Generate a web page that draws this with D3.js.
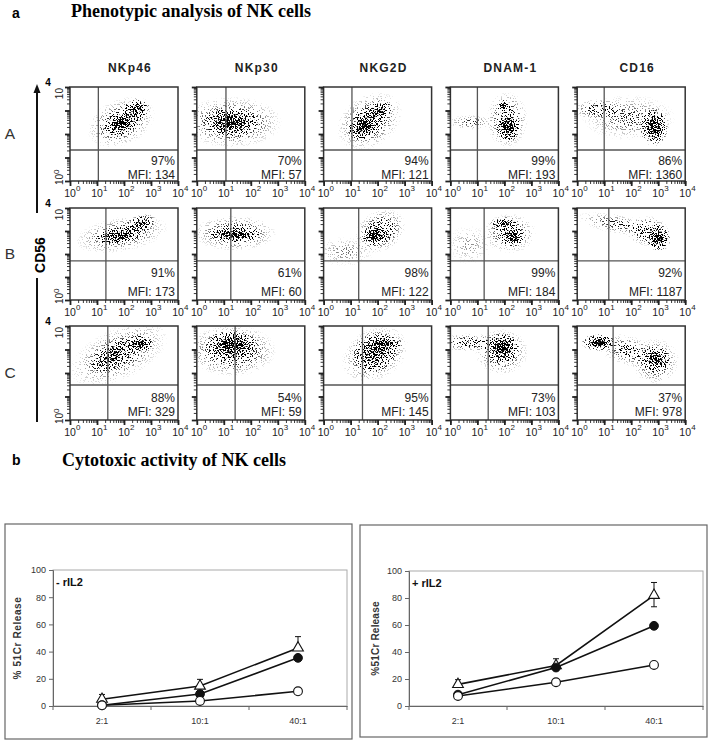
<!DOCTYPE html>
<html>
<head>
<meta charset="utf-8">
<script src="https://cdn.jsdelivr.net/npm/d3@7"></script>
<style>
  body { margin: 0; background: #fff; }
  svg { display: block; font-family: "Liberation Sans", Arial, sans-serif; }
</style>
</head>
<body>
<div id="fig"></div>
<script>
// ---- panel a: phenotype ----
const markers = ["NKp46", "NKp30", "NKG2D", "DNAM-1", "CD16"];
const rows = ["A", "B", "C"];
const percents = [[97, 70, 94, 99, 86], [91, 61, 98, 99, 92], [88, 54, 95, 73, 37]];
const mfis = [[134, 57, 121, 193, 1360], [173, 60, 122, 184, 1187], [329, 59, 145, 103, 978]];
// gate positions, in decades
const gateX = [[1.05, 1.08, 1.05, 1.0, 1.0], [1.33, 1.26, 1.3, 1.25, 1.17], [1.4, 1.42, 1.44, 1.4, 1.33]];
const gateY = [1.32, 1.7, 1.49];
const decades = [1, 10, 100, 1000, 10000];
const decadeExp = ["0", "1", "2", "3", "4"];
// event clouds per panel: [log x, log y, sd x, sd y, tilt deg, density]
const clouds = [
  [[1.95, 2.45, 0.32, 0.22, 30, 0.95], [2.45, 3.05, 0.25, 0.22, 20, 0.7], [1.9, 2.5, 0.6, 0.45, 25, 0.3]],
  [[1.25, 2.5, 0.45, 0.28, 0, 0.95], [1.3, 2.5, 0.85, 0.5, 0, 0.3]],
  [[1.5, 2.35, 0.3, 0.25, 35, 0.95], [2.05, 3.0, 0.25, 0.18, 20, 0.7], [1.7, 2.55, 0.6, 0.5, 35, 0.3]],
  [[2.15, 2.3, 0.2, 0.3, 0, 0.95], [1.95, 3.2, 0.12, 0.12, 0, 0.85], [2.1, 2.6, 0.35, 0.55, 0, 0.3], [0.75, 2.5, 0.4, 0.15, 0, 0.16]],
  [[2.85, 2.3, 0.25, 0.38, 0, 0.95], [0.8, 3.05, 0.45, 0.2, 0, 0.25], [1.9, 2.7, 0.8, 0.45, 0, 0.16]],
  [[1.8, 2.8, 0.4, 0.15, 8, 0.95], [2.6, 3.3, 0.28, 0.18, 20, 0.7], [1.9, 2.85, 0.8, 0.35, 10, 0.25]],
  [[1.4, 2.85, 0.45, 0.15, 0, 0.95], [1.4, 2.9, 0.7, 0.35, 0, 0.3]],
  [[1.9, 2.8, 0.22, 0.2, 20, 0.95], [2.1, 3.0, 0.45, 0.4, 30, 0.35], [0.8, 2.1, 0.5, 0.3, 0, 0.1]],
  [[2.3, 2.75, 0.2, 0.2, 0, 0.95], [2.0, 3.3, 0.25, 0.15, 0, 0.65], [2.2, 2.9, 0.45, 0.4, 0, 0.25], [0.7, 2.4, 0.4, 0.4, 0, 0.08]],
  [[3.0, 2.7, 0.22, 0.28, 0, 0.95], [1.5, 3.3, 0.7, 0.2, -10, 0.18], [2.6, 3.0, 0.35, 0.3, 0, 0.35]],
  [[2.6, 3.25, 0.22, 0.17, 0, 0.95], [1.6, 2.75, 0.45, 0.25, 30, 0.6], [1.8, 2.8, 0.9, 0.5, 25, 0.25]],
  [[1.3, 3.2, 0.45, 0.28, 0, 0.95], [1.3, 2.95, 0.75, 0.5, 0, 0.35]],
  [[2.3, 3.25, 0.3, 0.15, 0, 0.95], [1.9, 2.9, 0.4, 0.4, 30, 0.6], [1.9, 2.8, 0.6, 0.5, 30, 0.3]],
  [[1.9, 3.1, 0.3, 0.28, 0, 0.95], [0.7, 3.3, 0.55, 0.18, 0, 0.28], [1.9, 2.9, 0.45, 0.45, 0, 0.3]],
  [[0.8, 3.3, 0.3, 0.17, 0, 0.95], [2.9, 2.6, 0.25, 0.25, 0, 0.75], [1.9, 2.95, 0.55, 0.3, -15, 0.22], [2.9, 2.5, 0.4, 0.45, 0, 0.28]]
];

// ---- panel b: cytotoxicity ----
const ratios = ["2:1", "10:1", "40:1"];
const releaseTicks = [0, 20, 40, 60, 80, 100];
const minusTriangle = [5, 14.7, 42.7];
const minusTriangleUp = [3.5, 4.9, 8.3];
const minusTriangleDown = [0, 0, 0];
const minusFilled = [0.5, 8.8, 35.4];
const minusOpen = [0.5, 3.7, 10.8];
const plusTriangle = [16, 30, 82];
const plusTriangleUp = [3.5, 5, 9.5];
const plusTriangleDown = [0, 0, 8.5];
const plusFilled = [8.4, 28.5, 59.4];
const plusOpen = [7.4, 17.6, 30.4];

const width = 714, height = 741;
const svg = d3.select("#fig").append("svg").attr("width", width).attr("height", height);
const defs = svg.append("defs");

// density blob, turned into speckles by the filter
const blob = defs.append("radialGradient").attr("id", "blob");
[[0, 1], [0.25, 0.85], [0.5, 0.45], [0.75, 0.15], [1, 0]].forEach(s =>
  blob.append("stop").attr("offset", s[0]).attr("stop-color", "#000").attr("stop-opacity", s[1]));

const stipple = defs.append("filter").attr("id", "stipple")
  .attr("x", "-20%").attr("y", "-20%").attr("width", "140%").attr("height", "140%")
  .attr("color-interpolation-filters", "sRGB");
stipple.append("feTurbulence").attr("type", "fractalNoise").attr("baseFrequency", 0.75)
  .attr("numOctaves", 2).attr("seed", 7).attr("result", "noise");
stipple.append("feColorMatrix").attr("in", "noise").attr("type", "matrix")
  .attr("values", "0 0 0 0 0  0 0 0 0 0  0 0 0 0 0  4 0 0 0 -1.5").attr("result", "grain");
stipple.append("feComposite").attr("in", "SourceAlpha").attr("in2", "grain").attr("operator", "arithmetic")
  .attr("k1", 0).attr("k2", 1).attr("k3", -1).attr("k4", 0).attr("result", "diff");
stipple.append("feComponentTransfer").attr("in", "diff")
  .append("feFuncA").attr("type", "linear").attr("slope", 6);

// titles
svg.append("text").attr("x", 12).attr("y", 18).attr("font-weight", "bold").attr("font-size", 14).text("a");
svg.append("text").attr("x", 71).attr("y", 17).attr("font-family", "Liberation Serif, serif")
  .attr("font-weight", "bold").attr("font-size", 18).text("Phenotypic analysis of NK cells");
svg.append("text").attr("x", 12).attr("y", 465).attr("font-weight", "bold").attr("font-size", 14).text("b");
svg.append("text").attr("x", 62).attr("y", 466).attr("font-family", "Liberation Serif, serif")
  .attr("font-weight", "bold").attr("font-size", 18).text("Cytotoxic activity of NK cells");

const panelX0 = 70, panelStep = 126.8, panelW = 108;
const rowTops = [87, 208, 326], rowHeights = [94, 92, 94];
const pctOffset = [16.5, 23, 18.5], mfiOffset = [2.5, 4, 4];

// column headers
svg.append("g").selectAll("text").data(markers).join("text")
  .attr("x", (d, i) => panelX0 + i * panelStep + panelW / 2 + 6)
  .attr("y", 72).attr("text-anchor", "middle")
  .attr("font-weight", "bold").attr("font-size", 12).attr("letter-spacing", 1.2)
  .attr("fill", "#222").text(d => d);

// CD56 arrow
const axisG = svg.append("g").attr("stroke", "#111").attr("stroke-width", 2);
axisG.append("line").attr("x1", 37).attr("x2", 37).attr("y1", 91).attr("y2", 213);
axisG.append("line").attr("x1", 37).attr("x2", 37).attr("y1", 278).attr("y2", 422);
svg.append("path").attr("d", "M37,84 L33.5,93 L40.5,93 Z").attr("fill", "#111");
svg.append("text").attr("transform", "translate(45,255) rotate(-90)").attr("text-anchor", "middle")
  .attr("font-weight", "bold").attr("font-size", 14).text("CD56");

rows.forEach((rowName, r) => {
  const y0 = rowTops[r], h = rowHeights[r];
  svg.append("text").attr("x", 10).attr("y", y0 + h / 2 + 5).attr("text-anchor", "middle")
    .attr("font-size", 15.5).attr("fill", "#333").text(rowName);
  // decade labels on the y side (first column only)
  svg.append("text").attr("x", 48).attr("y", y0 - 1).attr("text-anchor", "middle")
    .attr("font-weight", "bold").attr("font-size", 10).text("4");
  svg.append("text").attr("transform", `translate(63,${y0 + 1}) rotate(-90)`).attr("text-anchor", "end")
    .attr("font-size", 10).attr("fill", "#222").text("10");
  const low = svg.append("text").attr("transform", `translate(63,${y0 + h + 4}) rotate(-90)`)
    .attr("font-size", 10).attr("fill", "#222");
  low.append("tspan").text("10");
  low.append("tspan").attr("dy", -4).attr("font-size", 8).text("0");

  markers.forEach((m, c) => {
    const x0 = panelX0 + c * panelStep;
    const x = d3.scaleLog().domain([1, 10000]).range([x0, x0 + panelW]);
    const y = d3.scaleLog().domain([1, 10000]).range([y0 + h, y0]);
    const kx = panelW / 4, ky = h / 4;
    const g = svg.append("g");

    const clipId = `clip${r}${c}`;
    defs.append("clipPath").attr("id", clipId).append("rect")
      .attr("x", x0).attr("y", y0).attr("width", panelW).attr("height", h);

    g.append("g").attr("clip-path", `url(#${clipId})`)
      .append("g").attr("filter", "url(#stipple)")
      .selectAll("ellipse").data(clouds[r * 5 + c]).join("ellipse")
      .attr("transform", d => `translate(${x(10 ** d[0])},${y(10 ** d[1])}) rotate(${-d[4]})`)
      .attr("rx", d => 2.2 * d[2] * kx).attr("ry", d => 2.2 * d[3] * ky)
      .attr("fill", "url(#blob)").attr("fill-opacity", d => d[5]);

    // quadrant gates
    g.append("line").attr("x1", x(10 ** gateX[r][c])).attr("x2", x(10 ** gateX[r][c]))
      .attr("y1", y0).attr("y2", y0 + h).attr("stroke", "#555").attr("stroke-width", 1.3);
    g.append("line").attr("x1", x0).attr("x2", x0 + panelW)
      .attr("y1", y(10 ** gateY[r])).attr("y2", y(10 ** gateY[r])).attr("stroke", "#555").attr("stroke-width", 1.3);

    g.append("rect").attr("x", x0).attr("y", y0).attr("width", panelW).attr("height", h)
      .attr("fill", "none").attr("stroke", "#333").attr("stroke-width", 1.5);

    // log ticks
    const minor = x.ticks();
    const ax = [
      [d3.axisBottom(x).tickValues(minor).tickSize(3), `translate(0,${y0 + h})`, 0.9],
      [d3.axisBottom(x).tickValues(decades).tickSize(5), `translate(0,${y0 + h})`, 1.8],
      [d3.axisLeft(y).tickValues(minor).tickSize(3), `translate(${x0},0)`, 0.9],
      [d3.axisLeft(y).tickValues(decades).tickSize(5), `translate(${x0},0)`, 1.8]
    ];
    ax.forEach(([a, t, sw]) => {
      const tg = g.append("g").attr("transform", t).call(a.tickFormat(""));
      tg.select(".domain").remove();
      tg.selectAll("line").attr("stroke", "#222").attr("stroke-width", sw);
    });

    // decade labels under the panel
    decades.forEach((v, i) => {
      g.append("text").attr("x", x(v)).attr("y", y0 + h + 16).attr("text-anchor", "middle")
        .attr("font-size", 10.5).attr("fill", "#222").text("10");
      g.append("text").attr("x", x(v) + 6).attr("y", y0 + h + 10)
        .attr("font-size", 8).attr("fill", "#222").text(decadeExp[i]);
    });

    g.append("text").attr("x", x0 + panelW - 3).attr("y", y0 + h - pctOffset[r])
      .attr("text-anchor", "end").attr("font-size", 12).attr("fill", "#222").text(percents[r][c] + "%");
    g.append("text").attr("x", x0 + panelW - 3).attr("y", y0 + h - mfiOffset[r])
      .attr("text-anchor", "end").attr("font-size", 12).attr("fill", "#222").text("MFI: " + mfis[r][c]);
  });
});

// ---- killing curves ----
function drawKilling(box, plot, titleX, yTitle, tag, tri, triUp, triDown, filled, open) {
  const g = svg.append("g");
  g.append("rect").attr("x", box[0]).attr("y", box[1]).attr("width", box[2]).attr("height", box[3])
    .attr("fill", "#fff").attr("stroke", "#666").attr("stroke-width", 1.2);

  const x = d3.scaleBand().domain(ratios).range([plot[0], plot[1]]);
  const y = d3.scaleLinear().domain([0, 100]).range([plot[3], plot[2]]);
  const cx = d => x(d) + x.bandwidth() / 2;

  g.append("rect").attr("x", plot[0]).attr("y", plot[2]).attr("width", plot[1] - plot[0])
    .attr("height", plot[3] - plot[2]).attr("fill", "none").attr("stroke", "#aaa");

  const ya = g.append("g").attr("transform", `translate(${plot[0]},0)`)
    .call(d3.axisLeft(y).tickValues(releaseTicks).tickSize(4).tickPadding(3));
  ya.selectAll("text").attr("font-size", 9).attr("fill", "#333").attr("font-family", "Liberation Sans, Arial, sans-serif");
  ya.selectAll("line,path").attr("stroke", "#666");

  const xa = g.append("g").attr("transform", `translate(0,${plot[3]})`)
    .call(d3.axisBottom(x).tickSize(0).tickPadding(12));
  xa.selectAll("text").attr("font-size", 9).attr("fill", "#333").attr("font-family", "Liberation Sans, Arial, sans-serif");
  xa.select(".domain").attr("stroke", "#666");
  g.selectAll(".bound").data(ratios.map(d => x(d)).concat([x.range()[1]])).join("line")
    .attr("x1", d => d).attr("x2", d => d).attr("y1", plot[3]).attr("y2", plot[3] + 4).attr("stroke", "#666");

  g.append("text").attr("transform", `translate(${titleX},${(plot[2] + plot[3]) / 2}) rotate(-90)`)
    .attr("text-anchor", "middle").attr("font-size", 10).attr("font-weight", "bold").attr("fill", "#333")
    .attr("letter-spacing", yTitle.includes(" 5") ? 0.6 : 0.2)
    .text(yTitle);
  g.append("text").attr("x", plot[0] + 3).attr("y", plot[2] + 16).attr("font-size", 11)
    .attr("font-weight", "bold").attr("fill", "#111").text(tag);

  const line = d3.line().x((d, i) => cx(ratios[i])).y(d => y(d));
  [tri, filled, open].forEach(s => g.append("path").attr("d", line(s))
    .attr("fill", "none").attr("stroke", "#111").attr("stroke-width", 1.6));

  // error bars on the triangle series
  tri.forEach((v, i) => {
    const px = cx(ratios[i]);
    [[v + triUp[i], triUp[i]], [v - triDown[i], triDown[i]]].forEach(([end, e]) => {
      if (!e) return;
      g.append("line").attr("x1", px).attr("x2", px).attr("y1", y(v)).attr("y2", y(end))
        .attr("stroke", "#111").attr("stroke-width", 1);
      g.append("line").attr("x1", px - 3).attr("x2", px + 3).attr("y1", y(end)).attr("y2", y(end))
        .attr("stroke", "#111").attr("stroke-width", 1);
    });
  });

  g.selectAll(".tri").data(tri).join("path")
    .attr("transform", (d, i) => `translate(${cx(ratios[i])},${y(d)})`)
    .attr("d", d3.symbol(d3.symbolTriangle, 50)())
    .attr("fill", "#fff").attr("stroke", "#111").attr("stroke-width", 1.1);
  g.selectAll(".filled").data(filled).join("circle")
    .attr("cx", (d, i) => cx(ratios[i])).attr("cy", d => y(d)).attr("r", 4.4)
    .attr("fill", "#111").attr("stroke", "#111");
  g.selectAll(".open").data(open).join("circle")
    .attr("cx", (d, i) => cx(ratios[i])).attr("cy", d => y(d)).attr("r", 4.4)
    .attr("fill", "#fff").attr("stroke", "#111").attr("stroke-width", 1.1);
}

drawKilling([5, 524, 347, 215], [53, 347, 570, 706], 21, "% 51Cr Release", "- rIL2",
  minusTriangle, minusTriangleUp, minusTriangleDown, minusFilled, minusOpen);
drawKilling([360, 525, 347, 212], [409, 703, 571, 706], 379, "%51Cr Release", "+ rIL2",
  plusTriangle, plusTriangleUp, plusTriangleDown, plusFilled, plusOpen);
</script>
</body>
</html>
